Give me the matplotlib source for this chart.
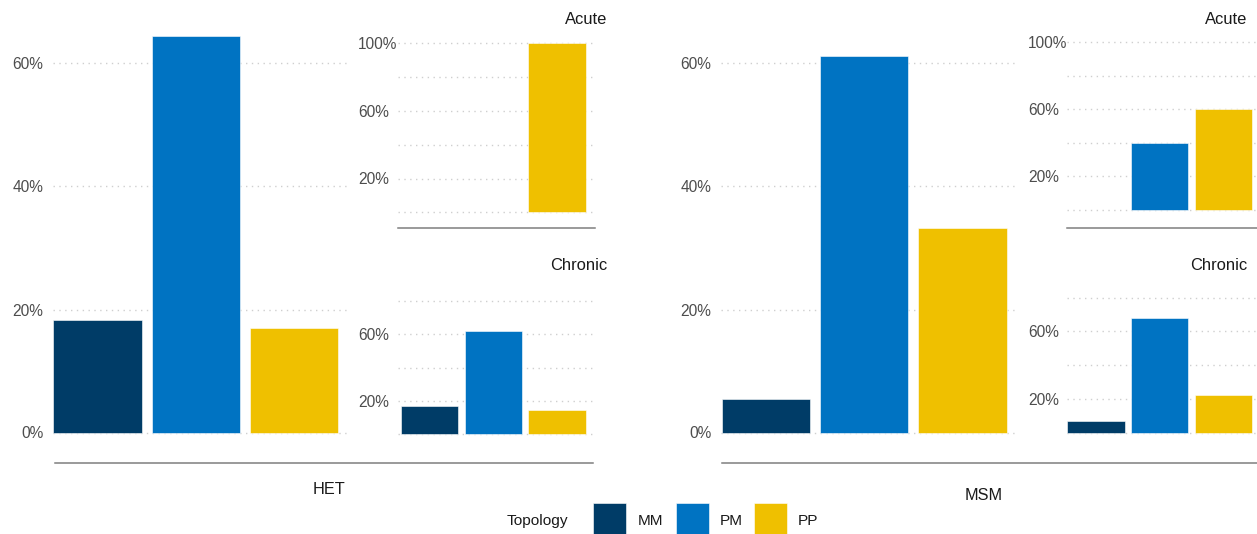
import matplotlib
matplotlib.use("Agg")
import matplotlib.pyplot as plt
from matplotlib.lines import Line2D
from matplotlib.patches import Rectangle

plt.rcParams["font.family"] = ["Liberation Sans", "DejaVu Sans"]

# ---- data -------------------------------------------------------------
topology = ["MM", "PM", "PP"]
colors = ["#003C67", "#0073C2", "#EFC000"]

het_overall = [18.3, 64.5, 17.0]
het_acute = [0, 0, 100]
het_chronic = [17.2, 62.0, 14.4]

msm_overall = [5.4, 61.2, 33.3]
msm_acute = [0, 40, 60]
msm_chronic = [7.2, 67.9, 22.4]

groups = ["HET", "MSM"]
stage_titles = ["Acute", "Chronic"]

# ---- figure -----------------------------------------------------------
W, H = 1257, 534
fig = plt.figure(figsize=(W / 100, H / 100), dpi=100)

GRID = dict(color="#CFCFCF", linewidth=1.0, linestyle=(0, (1, 3.2)))
TICK_COLOR = "#4D4D4D"
AXIS_COLOR = "#7F7F7F"


def px_axes(x0, x1, top, bottom):
    return fig.add_axes([x0 / W, 1 - bottom / H, (x1 - x0) / W, (bottom - top) / H])


def bar_panel(ax, values, gx0, gx1, b0, step, top, bottom, zero_px, k,
              major, minor, label_side):
    xs = list(range(len(values)))
    for x, v, c in zip(xs, values, colors):
        if v > 0:
            ax.bar(x, v, width=0.9, color=c, edgecolor="white", linewidth=0.4)
    ax.set_xlim((gx0 - b0) / step - 0.45, (gx1 - b0) / step - 0.45)
    ax.set_ylim((zero_px - bottom) / k, (zero_px - top) / k)
    ax.set_xticks([])
    ax.set_yticks(major)
    ax.set_yticks(minor, minor=True)
    ax.set_yticklabels([f"{v}%" for v in major], fontsize=11.2, color=TICK_COLOR)
    ax.tick_params(axis="y", which="both", length=0)
    if label_side == "left":
        ax.tick_params(axis="y", pad=(gx0 - label_x[ax]) * 0.72)
        for t in ax.get_yticklabels():
            t.set_horizontalalignment("left")
    else:
        ax.tick_params(axis="y", pad=7)
    ax.grid(True, axis="y", which="both", **GRID)
    ax.set_axisbelow(True)
    for s in ax.spines.values():
        s.set_visible(False)
    ax.patch.set_alpha(0)


label_x = {}

# group layouts: main panel, insets, label positions
layouts = [
    dict(name="HET", overall=het_overall, acute=het_acute, chronic=het_chronic,
         main=(53, 348, 53.3), inset=(398, 595, 401.0), inset_lbl=358,
         acute_zero=212.3, acute_k=1.69, chronic_zero=434.3, chronic_k=1.667,
         title_right=607, line=(55, 593), name_x=329.5, name_base=494),
    dict(name="MSM", overall=msm_overall, acute=msm_acute, chronic=msm_chronic,
         main=(721, 1016, 721.5), inset=(1067, 1264, 1067.4), inset_lbl=1028,
         acute_zero=210.0, acute_k=1.677, chronic_zero=432.7, chronic_k=1.6875,
         title_right=1247, line=(722, 1257), name_x=984, name_base=500),
]

for g in layouts:
    # overall panel
    gx0, gx1, b0 = g["main"]
    ax = px_axes(gx0, gx1, 20, 445)
    bar_panel(ax, g["overall"], gx0, gx1, b0, 98.3, 20, 445, 432.5, 6.15,
              [0, 20, 40, 60], [], "right")

    # acute inset
    ix0, ix1, ib0 = g["inset"]
    ax_a = px_axes(ix0, ix1, 30, 228.3)
    label_x[ax_a] = g["inset_lbl"]
    bar_panel(ax_a, g["acute"], ix0, ix1, ib0, 63.7, 30, 228.3,
              g["acute_zero"], g["acute_k"], [20, 60, 100], [0, 40, 80], "left")
    ax_a.spines["bottom"].set_visible(True)
    ax_a.spines["bottom"].set_color(AXIS_COLOR)
    ax_a.spines["bottom"].set_linewidth(1.1)

    # chronic inset
    ax_c = px_axes(ix0, ix1, 285, 445)
    label_x[ax_c] = g["inset_lbl"]
    bar_panel(ax_c, g["chronic"], ix0, ix1, ib0, 63.7, 285, 445,
              g["chronic_zero"], g["chronic_k"], [20, 60], [0, 40, 80], "left")

    # inset titles
    for title, base in zip(stage_titles, [24.3, 270]):
        fig.text(g["title_right"] / W, 1 - base / H, title, ha="right",
                 va="baseline", fontsize=11.9, color="#1A1A1A")

    # group axis line and label
    lx0, lx1 = g["line"]
    fig.add_artist(Line2D([lx0 / W, lx1 / W], [1 - 462.7 / H] * 2,
                          color=AXIS_COLOR, linewidth=1.1))
    fig.text(g["name_x"] / W, 1 - g["name_base"] / H, g["name"], ha="center",
             va="baseline", fontsize=11.7, color="#1A1A1A")

# ---- legend -----------------------------------------------------------
fig.text(506.7 / W, 1 - 525 / H, "Topology", ha="left", va="baseline",
         fontsize=11.1, color="#1A1A1A")
key_left = [593.3, 676.0, 754.3]
text_left = [637.3, 719.3, 797.3]
for name, c, kx, tx in zip(topology, colors, key_left, text_left):
    fig.add_artist(Rectangle((kx / W, 1 - 540 / H), 32.7 / W, (540 - 502.7) / H,
                             transform=fig.transFigure, facecolor=c,
                             edgecolor="white", linewidth=0.4))
    fig.text(tx / W, 1 - 525 / H, name, ha="left", va="baseline",
             fontsize=11.1, color="#1A1A1A")

fig.savefig("out.png", dpi=100)
